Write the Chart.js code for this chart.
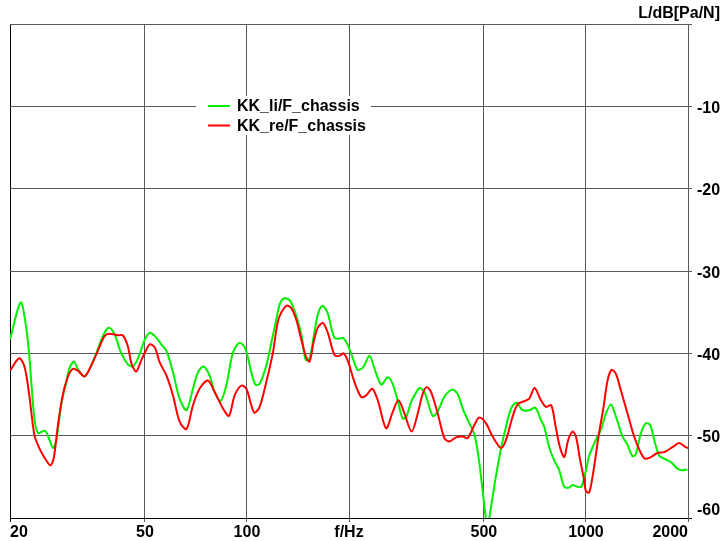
<!DOCTYPE html>
<html><head><meta charset="utf-8">
<script src="https://cdn.jsdelivr.net/npm/chart.js@4/dist/chart.umd.min.js"></script>
<style>html,body{margin:0;padding:0;background:#fff}#wrap{width:720px;height:541px}</style>
</head><body><div id="wrap"><canvas id="c" width="720" height="541"></canvas></div>
<script>
const xTicks = [20, 50, 100, 200, 500, 1000, 2000];
const xTickLabels = ['20', '50', '100', 'f/Hz', '500', '1000', '2000'];
const yTicks = [0, -10, -20, -30, -40, -50, -60];
const seriesNames = ['KK_li/F_chassis', 'KK_re/F_chassis'];
const axisTitle = 'L/dB[Pa/N]';

const greenFreq = [20, 21.5, 22.3, 22.8, 23.6, 24.2, 25.2, 25.7, 26.8, 27.4, 28.3, 29.3, 30.0, 30.9, 31.7, 33.2, 34.7, 36.3, 38.0, 39.3, 40.7, 42.5, 44.5, 46.0, 47.6, 50.0, 51.7, 53.5, 55.9, 57.9, 60.5, 63.3, 66.3, 69.3, 71.7, 74.5, 77.6, 80.3, 83.6, 86.9, 90.9, 95.2, 99.1, 103, 106, 109, 114, 118, 122, 125, 129, 134, 140, 145, 149, 153, 158, 162, 167, 173, 181, 188, 192, 198, 205, 212, 220, 230, 238, 249, 260, 269, 279, 288, 295, 305, 312, 323, 334, 353, 365, 382, 403, 418, 433, 448, 469, 485, 498, 512, 525, 540, 562, 581, 601, 624, 650, 681, 709, 737, 753, 779, 806, 834, 863, 893, 913, 944, 970, 1000, 1023, 1070, 1107, 1145, 1185, 1226, 1282, 1326, 1372, 1404, 1452, 1502, 1547, 1589, 1644, 1701, 1780, 1861, 1925, 1992];
const greenDb = [-38.3, -33.8, -36.7, -40.3, -47.9, -49.7, -49.4, -49.7, -51.5, -50.5, -46.3, -43.5, -41.7, -41.0, -41.9, -42.8, -41.5, -39.5, -37.5, -36.9, -37.7, -39.9, -41.3, -41.6, -40.7, -38.3, -37.5, -37.9, -38.9, -39.7, -42.3, -45.5, -46.9, -44.3, -42.3, -41.6, -42.7, -44.7, -45.8, -43.9, -39.9, -38.7, -39.5, -42.3, -43.8, -43.7, -41.5, -38.7, -35.9, -34.0, -33.3, -33.6, -35.5, -37.9, -40.8, -40.6, -37.5, -35.2, -34.2, -35.1, -38.1, -38.2, -38.1, -38.9, -40.5, -42.0, -41.7, -40.3, -41.9, -43.8, -42.9, -43.7, -45.9, -47.9, -47.7, -45.9, -45.1, -44.2, -44.7, -47.6, -47.1, -45.3, -44.4, -44.9, -46.7, -48.1, -49.9, -53.4, -57.4, -61.0, -58.6, -55.4, -51.5, -48.9, -46.7, -46.0, -46.9, -46.9, -46.6, -48.1, -48.9, -51.4, -53.0, -54.2, -56.2, -56.3, -56.0, -56.2, -56.2, -54.2, -52.4, -50.5, -49.3, -47.3, -46.2, -47.7, -50.1, -51.1, -52.5, -52.2, -49.7, -48.5, -48.7, -50.5, -52.4, -52.8, -53.2, -54.0, -54.2, -54.1];

const redFreq = [20, 21.3, 22.1, 22.8, 23.6, 24.4, 25.4, 26.3, 26.9, 27.7, 28.6, 29.6, 30.6, 31.7, 33.2, 34.7, 36.3, 38.0, 39.3, 41.6, 43.0, 44.5, 45.7, 47.1, 48.7, 50.0, 51.7, 53.5, 55.3, 57.9, 60.5, 63.3, 66.3, 69.3, 72.5, 76.7, 80.3, 85.0, 88.5, 92.0, 96.3, 99.6, 103, 105.3, 109, 114, 119.3, 124, 130.6, 135.1, 139.8, 144.6, 149.6, 153, 157.5, 161.8, 167.4, 173.2, 181.3, 187.5, 192.7, 198.4, 207.6, 217.3, 224.7, 234.1, 243.2, 257.4, 269.2, 279.8, 291.4, 306, 319, 330, 339.1, 349.3, 365.4, 382.3, 395.6, 413.9, 432.8, 447.7, 468.6, 484.7, 507.3, 530.5, 561.8, 581.1, 607.6, 628.6, 657.9, 680.5, 705.5, 736.8, 762.1, 790, 814, 838, 862.8, 886.6, 912.9, 934.2, 961.9, 983.7, 999.9, 1022.5, 1053, 1089, 1127, 1158, 1190, 1226, 1268, 1326, 1387, 1452, 1495, 1554, 1625, 1701, 1800, 1883, 1970, 2000];
const redDb = [-42.1, -40.6, -41.7, -45.1, -49.9, -51.5, -52.8, -53.6, -52.8, -48.7, -45.1, -42.9, -41.9, -42.1, -42.8, -41.5, -39.7, -37.9, -37.6, -37.8, -37.8, -39.1, -41.3, -42.2, -40.9, -39.9, -38.9, -39.3, -41.1, -42.7, -45.1, -48.3, -49.2, -46.3, -44.3, -43.3, -44.7, -46.7, -47.6, -45.1, -43.9, -44.3, -46.3, -47.2, -46.5, -43.5, -39.9, -35.8, -34.2, -34.5, -35.9, -38.3, -40.5, -41.0, -38.5, -36.9, -36.3, -37.5, -40.2, -40.3, -40.0, -40.9, -43.5, -45.3, -45.1, -44.3, -45.7, -49.1, -47.1, -45.7, -47.3, -49.5, -47.3, -44.9, -44.1, -44.7, -47.3, -50.3, -50.7, -50.2, -50.1, -50.3, -48.7, -47.8, -48.5, -50.1, -51.5, -50.5, -47.7, -46.2, -45.8, -45.5, -44.2, -45.7, -46.5, -46.3, -48.9, -51.4, -52.6, -50.5, -49.5, -50.1, -53.0, -55.0, -56.7, -56.9, -54.2, -50.1, -46.5, -43.3, -42.0, -42.5, -44.5, -47.3, -50.1, -52.1, -52.8, -52.6, -52.1, -52.0, -51.4, -50.9, -51.4, -51.5];

const FONT = '"Liberation Sans", Arial, sans-serif';
const toPts = (fs, ds) => fs.map((f, i) => ({x: f, y: ds[i]}));

const legendPlugin = {
  id: 'boxLegend',
  afterDatasetsDraw(chart) {
    const ctx = chart.ctx;
    const items = [{name: seriesNames[0], color: '#00f000', y: 107}, {name: seriesNames[1], color: '#ff0000', y: 126.5}];
    ctx.save();
    ctx.fillStyle = '#ffffff';
    ctx.fillRect(196, 96, 175, 39);
    items.forEach(it => {
      ctx.strokeStyle = it.color;
      ctx.lineWidth = 2;
      ctx.beginPath();
      ctx.moveTo(208, it.y - 1);
      ctx.lineTo(230, it.y - 1);
      ctx.stroke();
      ctx.fillStyle = '#000';
      ctx.font = 'bold 16px ' + FONT;
      ctx.textBaseline = 'middle';
      ctx.textAlign = 'left';
      ctx.fillText(it.name, 237, it.y);
    });
    ctx.restore();
  }
};

new Chart(document.getElementById('c'), {
  type: 'line',
  data: {
    datasets: [
      {label: seriesNames[0], data: toPts(greenFreq, greenDb), borderColor: '#00f000', borderWidth: 2, pointRadius: 0, tension: 0.3, fill: false, order: 2},
      {label: seriesNames[1], data: toPts(redFreq, redDb), borderColor: '#ff0000', borderWidth: 2, pointRadius: 0, tension: 0.3, fill: false, order: 1}
    ]
  },
  options: {
    responsive: false,
    animation: false,
    devicePixelRatio: 1,
    layout: {padding: {left: 10, right: 0, top: 0, bottom: 0}},
    plugins: {
      legend: {display: false},
      tooltip: {enabled: false},
      title: {display: true, text: axisTitle, align: 'end', color: '#000', font: {family: FONT, size: 16, weight: 'bold'}, padding: {top: 2, bottom: 1}}
    },
    scales: {
      x: {
        type: 'logarithmic', position: 'bottom', min: 20, max: 2000,
        afterBuildTicks: s => { s.ticks = xTicks.map(v => ({value: v})); },
        afterFit: s => { s.height = 23; },
        ticks: {autoSkip: false, maxRotation: 0, minRotation: 0, align: 'inner', padding: 1, color: '#000',
          font: {family: FONT, size: 16, weight: 'bold'},
          callback: v => { const i = xTicks.indexOf(Number(v)); return i >= 0 ? xTickLabels[i] : ''; }},
        grid: {color: c => (c.tick && c.tick.value === 20) ? '#000' : '#5a5a5a', lineWidth: 1, tickLength: 4, drawTicks: true},
        border: {color: '#000', width: 1}
      },
      y: {
        type: 'linear', position: 'right', min: -60, max: 0,
        afterBuildTicks: s => { s.ticks = yTicks.map(v => ({value: v})); },
        afterFit: s => { s.width = 32; },
        ticks: {padding: 5, color: '#000', labelOffset: 2,
          font: {family: FONT, size: 16, weight: 'bold'},
          callback: v => v === 0 ? '' : (v === -60 ? ['-60', ''] : String(v))},
        grid: {color: c => (c.tick && c.tick.value === -60) ? '#000' : '#5a5a5a', lineWidth: 1, tickLength: 4, drawTicks: true},
        border: {color: '#5a5a5a', width: 1}
      }
    }
  },
  plugins: [legendPlugin]
});
</script>
</body></html>
